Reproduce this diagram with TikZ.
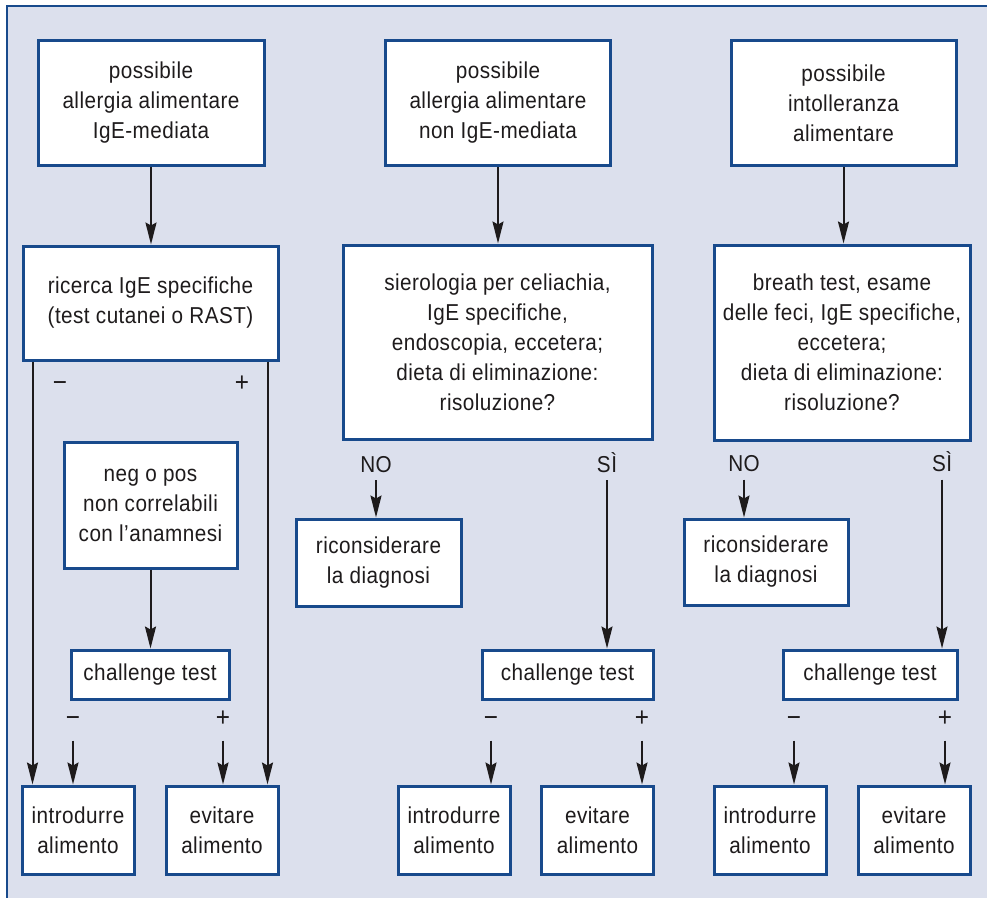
\documentclass[tikz,border=0pt]{standalone}
\usepackage{fontspec}
\setmainfont{Liberation Sans}[FakeStretch=0.9,LetterSpace=2]
\usetikzlibrary{arrows.meta,calc}
\definecolor{fondo}{RGB}{220,224,237}
\definecolor{bordo}{RGB}{24,74,140}
\definecolor{inchiostro}{RGB}{30,27,28}

\begin{document}
\begin{tikzpicture}[x=1pt,y=-1pt,
	box/.style={draw=bordo,line width=3pt,fill=white,align=center,inner sep=0pt,text=inchiostro,font=\fontsize{23}{30}\selectfont},
	lab/.style={inner sep=0pt,text height=16pt,text depth=0pt,text=inchiostro,font=\fontsize{23}{30}\selectfont},
	segno/.style={inner sep=0pt,text height=16pt,text depth=0pt,text=inchiostro,font=\fontsize{27}{30}\selectfont},
	arr/.style={draw=inchiostro,line width=2pt,-{Stealth[length=22pt,width=11pt,inset=3pt]}}]
\clip (0,0) rectangle (987,897);
\fill[white] (0,0) rectangle (987,897);
\draw[bordo,line width=2pt,fill=fondo] (7,6) rectangle (1000,910);

\node[box,minimum width=226,minimum height=125] (allIgE) at (151,102.5) {possibile\\allergia alimentare\\IgE-mediata};
\node[box,minimum width=225,minimum height=125] (allNon) at (498,103) {possibile\\allergia alimentare\\non IgE-mediata};
\node[box,minimum width=225,minimum height=125] (intoll) at (843.5,103) {possibile\\intolleranza\\alimentare};
\node[box,minimum width=255,minimum height=114] (ricIgE) at (150.5,303) {ricerca IgE specifiche\\(test cutanei o RAST)};
\node[box,minimum width=309,minimum height=194] (sieroCel) at (497.5,342) {sierologia per celiachia,\\IgE specifiche,\\endoscopia, eccetera;\\dieta di eliminazione:\\risoluzione?};
\node[box,minimum width=256,minimum height=195] (breath) at (842,342.5) {breath test, esame\\delle feci, IgE specifiche,\\eccetera;\\dieta di eliminazione:\\risoluzione?};
\node[box,minimum width=173,minimum height=126] (negPos) at (150.5,505) {neg o pos\\non correlabili\\con l'anamnesi};
\node[box,minimum width=165,minimum height=87] (riconsM) at (378.5,562.5) {riconsiderare\\la diagnosi};
\node[box,minimum width=164,minimum height=86] (riconsR) at (766,562) {riconsiderare\\la diagnosi};
\node[box,minimum width=158,minimum height=49] (challL) at (150,674.5) {challenge test};
\node[box,minimum width=171,minimum height=49] (challM) at (567.5,674.5) {challenge test};
\node[box,minimum width=174,minimum height=49] (challR) at (870,674.5) {challenge test};
\node[box,minimum width=112,minimum height=88] (introL) at (78,830) {introdurre\\alimento};
\node[box,minimum width=112,minimum height=88] (evitL) at (222,830) {evitare\\alimento};
\node[box,minimum width=112,minimum height=88] (introM) at (454,830) {introdurre\\alimento};
\node[box,minimum width=112,minimum height=88] (evitM) at (597.5,830) {evitare\\alimento};
\node[box,minimum width=112,minimum height=88] (introR) at (770,830) {introdurre\\alimento};
\node[box,minimum width=112,minimum height=88] (evitR) at (914,830) {evitare\\alimento};

\node[segno] (menoA) at (60,383.5) {−};
\node[segno] (piuA) at (242,383.5) {+};
\node[segno] (menoL) at (73,718.5) {−};
\node[segno] (piuL) at (223,718.5) {+};
\node[segno] (menoM) at (491,718.5) {−};
\node[segno] (piuM) at (642,718.5) {+};
\node[segno] (menoR) at (794,718.5) {−};
\node[segno] (piuR) at (945,718.5) {+};
\node[lab] (noM) at (376,464) {NO};
\node[lab] (siM) at (607,464) {SÌ};
\node[lab] (noR) at (744,463.5) {NO};
\node[lab] (siR) at (942,463.5) {SÌ};

\draw[arr] (allIgE.south) -- (allIgE.south |- ricIgE.north);
\draw[arr] (allNon.south) -- (allNon.south |- sieroCel.north);
\draw[arr] (intoll.south) -- (intoll.south |- breath.north);
\draw[arr] ($(ricIgE.south west)+(11,0)$) coordinate (lineaMeno) -- (lineaMeno |- introL.north);
\draw[arr] ($(ricIgE.south east)+(-12,0)$) coordinate (lineaPiu) -- (lineaPiu |- evitL.north);
\draw[arr] (negPos.south) -- (negPos.south |- challL.north);
\draw[arr,shorten <=8pt] (noM.south) -- (noM.south |- riconsM.north);
\draw[arr,shorten <=8pt] (siM.south) -- (siM.south |- challM.north);
\draw[arr,shorten <=8pt] (noR.south) -- (noR.south |- riconsR.north);
\draw[arr,shorten <=8pt] (siR.south) -- (siR.south |- challR.north);
\draw[arr,shorten <=14pt] (menoL.south) -- (menoL.south |- introL.north);
\draw[arr,shorten <=14pt] (piuL.south) -- (piuL.south |- evitL.north);
\draw[arr,shorten <=14pt] (menoM.south) -- (menoM.south |- introM.north);
\draw[arr,shorten <=14pt] (piuM.south) -- (piuM.south |- evitM.north);
\draw[arr,shorten <=14pt] (menoR.south) -- (menoR.south |- introR.north);
\draw[arr,shorten <=14pt] (piuR.south) -- (piuR.south |- evitR.north);
\end{tikzpicture}
\end{document}
